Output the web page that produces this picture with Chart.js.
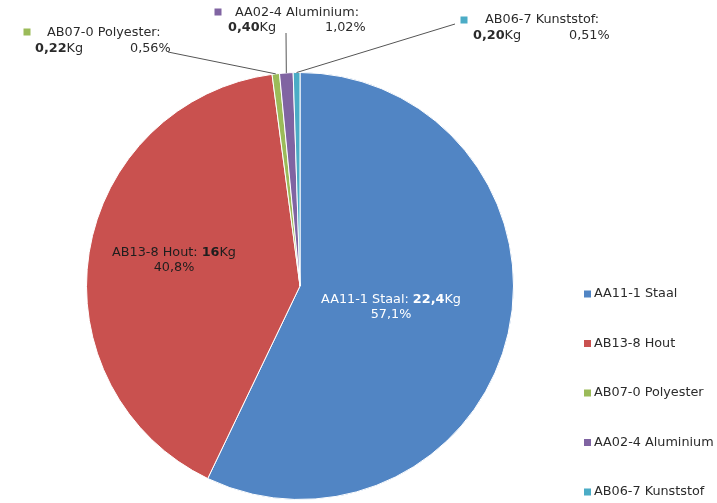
<!DOCTYPE html>
<html>
<head>
<meta charset="utf-8">
<script src="https://cdn.jsdelivr.net/npm/chart.js@4"></script>
<style>
  html, body { margin: 0; padding: 0; background: #fff; }
  #wrap { width: 717px; height: 503px; }
</style>
</head>
<body>
<div id="wrap"><canvas id="myChart" width="717" height="503"></canvas></div>
<script>
"use strict";

// chart data
const categories = ["AA11-1 Staal", "AB13-8 Hout", "AB07-0 Polyester", "AA02-4 Aluminium", "AB06-7 Kunststof"];
const weights = [22.4, 16, 0.22, 0.40, 0.20];
const weightLabels = ["22,4", "16", "0,22", "0,40", "0,20"];
const percentLabels = ["57,1%", "40,8%", "0,56%", "1,02%", "0,51%"];
const sliceColors = ["#5185c4", "#c9514f", "#9bbb59", "#8064a2", "#4bacc6"];

const FONT = "DejaVu Sans, Verdana, sans-serif";
const SIZE = "12.8px ";
const TEXT = "#2b2b2b";

// where each label goes (inside = centred text in slice, outside = callout)
const labelLayout = [
  { inside: true, x: 391, y: 300, color: "#ffffff" },
  { inside: true, x: 174, y: 253, color: "#1e1e1e" },
  { sq: [27, 32], name: [47, 33], kg: [35, 49], pct: [130, 49], from: [168, 52] },
  { sq: [218, 12], name: [235, 13], kg: [228, 28], pct: [325, 28], from: [286, 33] },
  { sq: [464, 20], name: [485, 20], kg: [473, 36], pct: [569, 36], from: [455, 24] },
];

function richWidth(ctx, parts) {
  let w = 0;
  for (let p of parts) {
    ctx.font = (p.bold ? "bold " : "") + SIZE + FONT;
    w += ctx.measureText(p.text).width;
  }
  return w;
}

function drawRich(ctx, parts, x, y, center) {
  let start = center ? x - richWidth(ctx, parts) / 2 : x;
  for (let p of parts) {
    ctx.font = (p.bold ? "bold " : "") + SIZE + FONT;
    ctx.fillText(p.text, start, y);
    start += ctx.measureText(p.text).width;
  }
}

const labelPlugin = {
  id: "sliceLabels",
  afterDatasetsDraw(chart) {
    const ctx = chart.ctx;
    const meta = chart.getDatasetMeta(0);
    ctx.save();
    ctx.textBaseline = "middle";
    ctx.textAlign = "left";

    for (let i = 0; i < categories.length; i++) {
      let lay = labelLayout[i];
      let arc = meta.data[i];
      if (lay.inside) {
        ctx.fillStyle = lay.color;
        drawRich(ctx, [{ text: categories[i] + ": " }, { text: weightLabels[i], bold: true }, { text: "Kg" }], lay.x, lay.y, true);
        drawRich(ctx, [{ text: percentLabels[i] }], lay.x, lay.y + 15, true);
        continue;
      }
      // leader line to the middle of the slice's outer edge
      let mid = (arc.startAngle + arc.endAngle) / 2;
      let ex = arc.x + Math.cos(mid) * arc.outerRadius;
      let ey = arc.y + Math.sin(mid) * arc.outerRadius;
      ctx.strokeStyle = "#555555";
      ctx.lineWidth = 1;
      ctx.beginPath();
      ctx.moveTo(lay.from[0], lay.from[1]);
      ctx.lineTo(ex, ey);
      ctx.stroke();

      ctx.fillStyle = sliceColors[i];
      ctx.fillRect(lay.sq[0] - 3.5, lay.sq[1] - 3.5, 7, 7);
      ctx.fillStyle = TEXT;
      drawRich(ctx, [{ text: categories[i] + ":" }], lay.name[0], lay.name[1], false);
      drawRich(ctx, [{ text: weightLabels[i], bold: true }, { text: "Kg" }], lay.kg[0], lay.kg[1], false);
      drawRich(ctx, [{ text: percentLabels[i] }], lay.pct[0], lay.pct[1], false);
    }

    // legend on the right
    for (let i = 0; i < categories.length; i++) {
      let y = 294 + i * 49.5;
      ctx.fillStyle = sliceColors[i];
      ctx.fillRect(584, y - 3.5, 7, 7);
      ctx.fillStyle = TEXT;
      drawRich(ctx, [{ text: categories[i] }], 594, y, false);
    }
    ctx.restore();
  },
};

const data = {
  labels: categories,
  datasets: [
    {
      data: weights,
      backgroundColor: sliceColors,
      borderColor: "#ffffff",
      borderWidth: 1,
    },
  ],
};

const config = {
  type: "pie",
  data: data,
  options: {
    responsive: false,
    animation: false,
    layout: {
      padding: { left: 86, right: 203, top: 72, bottom: 3 },
    },
    plugins: {
      legend: { display: false },
      tooltip: { enabled: false },
    },
  },
  plugins: [labelPlugin],
};

new Chart(document.getElementById("myChart"), config);
</script>
</body>
</html>
